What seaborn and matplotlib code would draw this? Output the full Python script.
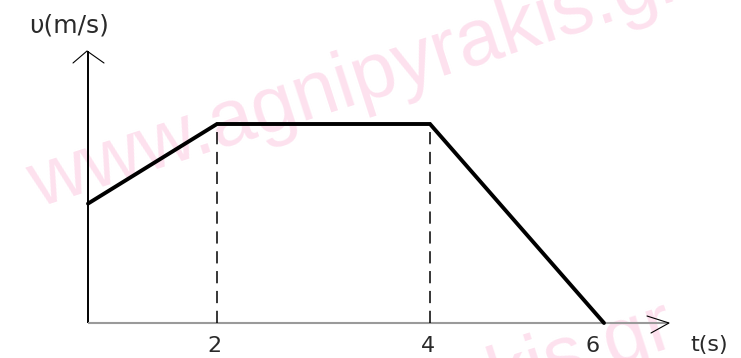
import numpy as np
import matplotlib
matplotlib.use("Agg")
import matplotlib.pyplot as plt
import seaborn as sns
import pandas as pd

# ---- data ----
t_values = [0, 2, 4, 6]          # t (s)
v_values = [6, 10, 10, 0]        # velocity (arbitrary units, no y ticks)
t_tick_values = [2, 4, 6]
t_tick_labels = ["2", "4", "6"]
x_label = "t(s)"
y_label = "υ(m/s)"
watermark = "www.agnipyrakis.gr"

sns.set_style("white")
plt.rcParams["font.family"] = ["DejaVu Sans"]

W, H = 741, 358
fig = plt.figure(figsize=(W / 100, H / 100), dpi=100)

# pixel overlay (drawn first -> behind the data axes)
pax = fig.add_axes([0, 0, 1, 1])
pax.set_xlim(0, W)
pax.set_ylim(H, 0)
pax.axis("off")

# watermark
wm_kw = dict(fontsize=57, color="#fde1ee", rotation=18, rotation_mode="anchor",
             ha="left", va="baseline", family=["Liberation Sans", "DejaVu Sans"], zorder=0)
pax.text(38, 208, watermark, **wm_kw)
pax.text(30, 556, watermark, **wm_kw)

# coordinate axes with open arrow heads
pax.plot([88, 88], [323, 51], color="black", lw=1.4, zorder=2, solid_capstyle="butt")
pax.plot([88, 669], [323, 323], color="#9a9a9a", lw=1.5, zorder=2, solid_capstyle="butt")
pax.plot([73, 87, 104], [63, 51, 63], color="black", lw=0.8, zorder=3)
pax.plot([647, 669, 651], [316, 323, 333], color="black", lw=0.8, zorder=3)

pax.text(69, 25, y_label, fontsize=18, color="#2a2a2a", ha="center", va="center")
pax.text(709, 345, x_label, fontsize=16, color="#2a2a2a", ha="center", va="center")

# data axes: non-uniform hand-drawn time axis
_tk = np.array([-10.0, 0, 2, 4, 6, 20.0])
_px = np.array([88 - 10 * 64.5, 88, 217, 430, 604, 604 + 14 * 87.0])


def fwd(x):
    return np.interp(np.asarray(x, dtype=float), _tk, _px)


def inv(p):
    return np.interp(np.asarray(p, dtype=float), _px, _tk)


ax = fig.add_axes([0, 0, 1, 1])
ax.set_xscale("function", functions=(fwd, inv))
ax.set_xlim(float(inv(0)), float(inv(W)))
pxu = 19.9
ax.set_ylim((323 - H) / pxu, 323 / pxu)
ax.axis("off")

df = pd.DataFrame({"t": t_values, "v": v_values})
sns.lineplot(data=df, x="t", y="v", ax=ax, color="black", lw=2.8,
             solid_joinstyle="miter", zorder=4)

# dashed guides at the plateau ends
ax.vlines(t_values[1:3], 0, v_values[1:3], colors="black", lw=1.1,
          linestyles=(0, (8, 5)), zorder=3)

label_dx = [-3, -2, -11]
for tv, lab, dx in zip(t_tick_values, t_tick_labels, label_dx):
    ax.annotate(lab, xy=(tv, 0), xytext=(dx, -23), textcoords="offset pixels",
                ha="center", va="center", fontsize=16, color="#2a2a2a")

fig.savefig("out.png", dpi=100)
